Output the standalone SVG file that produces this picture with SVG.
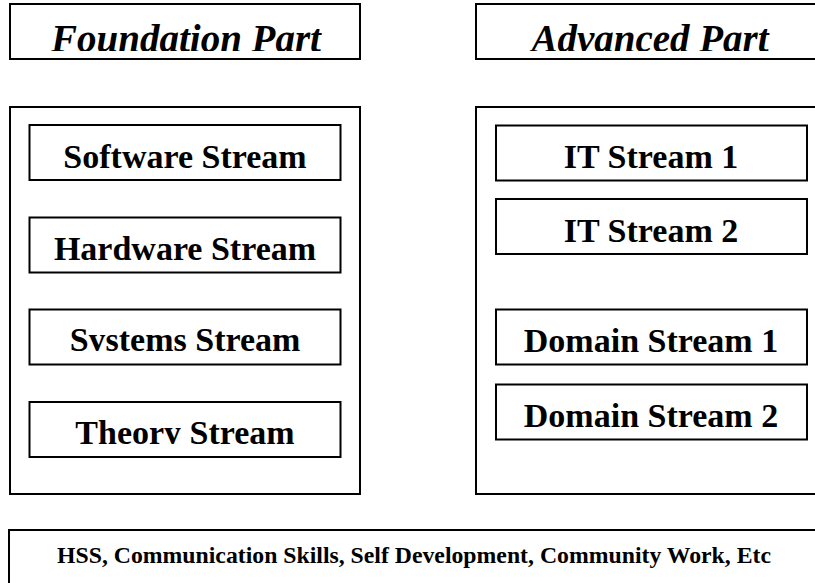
<svg xmlns="http://www.w3.org/2000/svg" width="815" height="583" viewBox="0 0 815 583">
  <style>
    .box { fill: #ffffff; stroke: #000000; stroke-width: 2; }
    .title { font-family: "Liberation Serif", "Times New Roman", serif; font-weight: bold; font-style: italic; font-size: 39px; fill: #000000; text-anchor: middle; }
    .stream { font-family: "Liberation Serif", "Times New Roman", serif; font-weight: bold; font-size: 34px; fill: #000000; text-anchor: middle; }
    .misc { font-family: "Liberation Serif", "Times New Roman", serif; font-weight: bold; font-size: 23px; fill: #000000; }
  </style>
  <defs>
    <clipPath id="clipTitle"><rect x="0" y="0" width="815" height="51"/></clipPath>
    <clipPath id="clipSystems"><rect x="0" y="300" width="815" height="51"/></clipPath>
    <clipPath id="clipTheory"><rect x="0" y="395" width="815" height="49"/></clipPath>
  </defs>
  <rect x="0" y="0" width="815" height="583" fill="#ffffff"/>

  <g id="foundation-title">
    <rect class="box" x="10" y="4" width="350" height="55"/>
    <text class="title" x="186" y="52" clip-path="url(#clipTitle)">Foundation Part</text>
  </g>
  <g id="advanced-title">
    <rect class="box" x="476" y="4" width="345" height="55"/>
    <text class="title" x="650" y="52" clip-path="url(#clipTitle)">Advanced Part</text>
  </g>

  <g id="foundation-part">
    <rect class="box" x="10" y="107" width="350" height="387"/>
  </g>
  <g id="software-stream">
    <rect class="box" x="29.5" y="125" width="311" height="55"/>
    <text class="stream" x="185" y="168">Software Stream</text>
  </g>
  <g id="hardware-stream">
    <rect class="box" x="29.5" y="217.5" width="311" height="55"/>
    <text class="stream" x="185" y="260">Hardware Stream</text>
  </g>
  <g id="systems-stream">
    <rect class="box" x="29.5" y="309.5" width="311" height="55"/>
    <text class="stream" x="185" y="351" clip-path="url(#clipSystems)">Systems Stream</text>
  </g>
  <g id="theory-stream">
    <rect class="box" x="29.5" y="402" width="311" height="55"/>
    <text class="stream" x="185" y="444" clip-path="url(#clipTheory)">Theory Stream</text>
  </g>

  <g id="advanced-part">
    <rect class="box" x="476" y="107" width="345" height="387"/>
  </g>
  <g id="it-stream-1">
    <rect class="box" x="496" y="125.5" width="311" height="55"/>
    <text class="stream" x="651" y="168">IT Stream 1</text>
  </g>
  <g id="it-stream-2">
    <rect class="box" x="496" y="199" width="311" height="55"/>
    <text class="stream" x="651" y="242">IT Stream 2</text>
  </g>
  <g id="domain-stream-1">
    <rect class="box" x="496" y="309.5" width="311" height="55"/>
    <text class="stream" x="651" y="352">Domain Stream 1</text>
  </g>
  <g id="domain-stream-2">
    <rect class="box" x="496" y="384.5" width="311" height="55"/>
    <text class="stream" x="651" y="427">Domain Stream 2</text>
  </g>

  <g id="general-skills">
    <rect class="box" x="9" y="530" width="820" height="70"/>
    <text class="misc" x="57" y="562.5" textLength="714" lengthAdjust="spacingAndGlyphs">HSS, Communication Skills, Self Development, Community Work, Etc</text>
  </g>

  <g id="connectors"></g>
</svg>
